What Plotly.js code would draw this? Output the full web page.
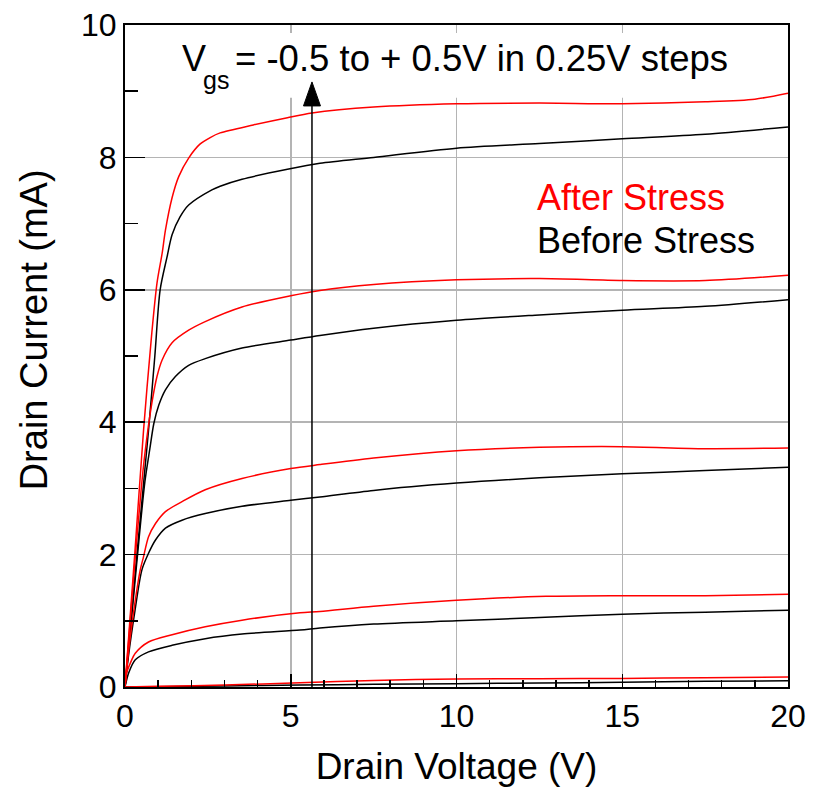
<!DOCTYPE html>
<html>
<head>
<meta charset="utf-8">
<script src="https://cdn.plot.ly/plotly-3.0.1.min.js"></script>
<style>
  html, body { margin: 0; padding: 0; background: #fff; }
  #chart { width: 816px; height: 788px; }
</style>
</head>
<body>
<div id="chart"></div>
<script>
// Output characteristics, Id vs Vd, for Vgs = +0.5 ... -0.5 V (0.25 V steps)
// "a" = after stress, "b" = before stress

// Vgs = +0.5 V
const vd1a = [0, 0.3, 0.56, 0.8, 0.965, 1.12, 1.22, 1.42, 1.62, 1.92, 2.26, 2.57, 2.87, 3.87, 4.9, 5.64, 7.5, 10, 12.5, 15, 17.5, 19, 20];
const id1a = [0, 2.05, 3.88, 5.3, 6.1, 6.55, 6.9, 7.39, 7.71, 7.99, 8.2, 8.3, 8.37, 8.49, 8.60, 8.67, 8.76, 8.81, 8.82, 8.81, 8.84, 8.88, 8.97];
const vd1b = [0, 0.35, 0.71, 0.9, 1.06, 1.27, 1.42, 1.66, 1.92, 2.62, 2.87, 3.53, 4.9, 5.88, 7.5, 10, 12.5, 15, 17.5, 20];
const id1b = [0, 1.95, 3.88, 5.0, 6.0, 6.5, 6.83, 7.1, 7.28, 7.51, 7.565, 7.67, 7.82, 7.91, 8.0, 8.14, 8.21, 8.28, 8.35, 8.46];

// Vgs = +0.25 V
const vd2a = [0, 0.3, 0.55, 0.69, 0.81, 0.965, 1.12, 1.42, 1.92, 2.42, 3.53, 5.0, 5.88, 7.5, 10, 12.5, 15, 17.5, 20];
const id2a = [0, 1.9, 3.3, 3.88, 4.29, 4.69, 4.94, 5.2, 5.39, 5.52, 5.74, 5.91, 5.99, 6.08, 6.15, 6.17, 6.14, 6.14, 6.22];
const vd2b = [0, 0.35, 0.6, 0.75, 0.87, 1.02, 1.22, 1.52, 1.92, 2.42, 3.53, 5.0, 5.88, 7.5, 10, 12.5, 15, 17.5, 20];
const id2b = [0, 1.85, 3.1, 3.6, 3.98, 4.26, 4.49, 4.69, 4.86, 4.96, 5.12, 5.24, 5.31, 5.42, 5.54, 5.62, 5.69, 5.75, 5.85];

// Vgs = 0 V
const vd3a = [0, 0.1, 0.25, 0.46, 0.56, 0.71, 0.92, 1.22, 1.72, 2.42, 3.53, 5.0, 5.88, 7.5, 10, 12.5, 15, 17.5, 20];
const id3a = [0, 0.5, 1.1, 1.77, 1.97, 2.27, 2.47, 2.65, 2.80, 2.98, 3.15, 3.30, 3.36, 3.46, 3.57, 3.62, 3.63, 3.60, 3.61];
const vd3b = [0, 0.1, 0.3, 0.51, 0.71, 0.92, 1.22, 1.72, 2.42, 3.53, 5.0, 5.88, 7.5, 10, 12.5, 15, 17.5, 20];
const id3b = [0, 0.45, 1.15, 1.77, 2.02, 2.22, 2.40, 2.52, 2.62, 2.73, 2.82, 2.87, 2.97, 3.08, 3.16, 3.22, 3.27, 3.32];

// Vgs = -0.25 V
const vd4a = [0, 0.03, 0.16, 0.31, 0.71, 1.42, 2.42, 3.53, 5.28, 5.88, 7.5, 10, 12.7, 15, 17.5, 20];
const id4a = [0, 0.18, 0.36, 0.51, 0.68, 0.79, 0.91, 1.01, 1.12, 1.14, 1.22, 1.31, 1.37, 1.38, 1.38, 1.40];
const vd4b = [0, 0.11, 0.31, 0.71, 1.42, 2.42, 3.53, 5.28, 5.88, 7.5, 10, 12.5, 15, 17.5, 20];
const id4b = [0, 0.21, 0.41, 0.53, 0.63, 0.73, 0.80, 0.86, 0.89, 0.95, 1.00, 1.05, 1.10, 1.13, 1.16];

// Vgs = -0.5 V
const vd5a = [0, 1, 3, 5.28, 7.5, 10, 12.5, 15, 17.5, 20];
const id5a = [0, 0.01, 0.03, 0.065, 0.10, 0.12, 0.125, 0.13, 0.14, 0.15];
const vd5b = [0, 1, 3, 5.28, 7.5, 10, 12.5, 15, 17.5, 20];
const id5b = [0, 0.005, 0.015, 0.03, 0.04, 0.05, 0.06, 0.07, 0.085, 0.095];

// Axis ticks
const xTicks = [0, 5, 10, 15, 20];
const yTicks = [0, 2, 4, 6, 8, 10];

// Labels
const xTitle = 'Drain Voltage (V)';
const yTitle = 'Drain Current (mA)';
const noteV = 'V';
const noteSub = 'gs';
const noteRest = '= -0.5 to + 0.5V in 0.25V steps';
const afterLabel = 'After Stress';
const beforeLabel = 'Before Stress';

// Sweep arrow: drawn at this drain voltage, from the axis up to the tip current
const arrowVd = 5.64;
const arrowTip = 9.14;

const RED = '#ff0000';
const BLACK = '#000000';
const FONT = 'Liberation Sans, Arial, sans-serif';

function curve(x, y, color) {
  return {
    x: x, y: y, type: 'scatter', mode: 'lines',
    line: { color: color, width: 1.5, shape: 'spline', smoothing: 0.8 },
    hoverinfo: 'skip', showlegend: false
  };
}

const before = [[vd1b, id1b], [vd2b, id2b], [vd3b, id3b], [vd4b, id4b], [vd5b, id5b]];
const after = [[vd1a, id1a], [vd2a, id2a], [vd3a, id3a], [vd4a, id4a], [vd5a, id5a]];

const data = []
  .concat(before.map(c => curve(c[0], c[1], BLACK)))
  .concat(after.map(c => curve(c[0], c[1], RED)));

const axisCommon = {
  showline: true, linecolor: '#000', linewidth: 2, mirror: true,
  ticks: 'inside', tickcolor: '#000', tickwidth: 1.5,
  showgrid: true, gridcolor: '#b4b4b4', gridwidth: 1.5,
  zeroline: false,
  tickfont: { family: FONT, size: 32, color: '#000' }
};

const textFont = (size, color) => ({ family: FONT, size: size, color: color });

const layout = {
  width: 816, height: 788,
  margin: { l: 125, r: 28, t: 25, b: 101 },
  paper_bgcolor: '#fff', plot_bgcolor: '#fff',
  font: { family: FONT, color: '#000' },
  xaxis: Object.assign({}, axisCommon, {
    range: [0, 20], tickvals: xTicks, ticktext: xTicks.map(String),
    ticklen: 13,
    minor: { dtick: 1, ticks: 'inside', ticklen: 7, tickwidth: 1.5, tickcolor: '#000', showgrid: false },
    title: { text: xTitle, font: textFont(37, '#000'), standoff: 20 }
  }),
  yaxis: Object.assign({}, axisCommon, {
    range: [0, 10], tickvals: yTicks, ticktext: yTicks.map(String),
    ticklen: 20,
    minor: { dtick: 1, ticks: 'inside', ticklen: 13, tickwidth: 1.5, tickcolor: '#000', showgrid: false }
  }),
  shapes: [
    // white band behind the step note, hiding the grid there
    { type: 'rect', xref: 'x', yref: 'y', x0: 1.5, x1: 18.6, y0: 8.9, y1: 9.88,
      fillcolor: '#fff', line: { width: 0 }, layer: 'between' },
    // sweep arrow shaft
    { type: 'line', xref: 'x', yref: 'y', x0: arrowVd, x1: arrowVd, y0: -0.1, y1: arrowTip - 0.25,
      line: { color: '#000', width: 1.5 }, layer: 'above' },
    // sweep arrow head (pixel-sized, anchored at the tip)
    { type: 'path', xref: 'x', yref: 'y', xsizemode: 'pixel', ysizemode: 'pixel',
      xanchor: arrowVd, yanchor: arrowTip,
      path: 'M -8.5 -24 L 8.5 -24 L 0 0 Z',
      fillcolor: '#000', line: { color: '#000', width: 1 }, layer: 'above' }
  ],
  annotations: [
    // y-axis title
    { text: yTitle, xref: 'paper', yref: 'y', x: -0.137, y: 5.39, xanchor: 'center', yanchor: 'middle',
      textangle: -90, showarrow: false, font: textFont(38, '#000') },
    // step note: V, subscript gs, rest of the sentence
    { text: noteV, xref: 'x', yref: 'y', x: 1.66, y: 9.5, xanchor: 'left', yanchor: 'middle',
      showarrow: false, font: textFont(36, '#000') },
    { text: noteSub, xref: 'x', yref: 'y', x: 2.3, y: 9.17, xanchor: 'left', yanchor: 'middle',
      showarrow: false, font: textFont(25, '#000') },
    { text: noteRest, xref: 'x', yref: 'y', x: 3.25, y: 9.5, xanchor: 'left', yanchor: 'middle',
      showarrow: false, font: textFont(36.5, '#000') },
    { text: afterLabel, xref: 'x', yref: 'y', x: 12.37, y: 7.4, xanchor: 'left', yanchor: 'middle',
      showarrow: false, font: textFont(36, RED) },
    { text: beforeLabel, xref: 'x', yref: 'y', x: 12.37, y: 6.75, xanchor: 'left', yanchor: 'middle',
      showarrow: false, font: textFont(36, BLACK) }
  ]
};

Plotly.newPlot('chart', data, layout, { staticPlot: true, displayModeBar: false });
</script>
</body>
</html>
